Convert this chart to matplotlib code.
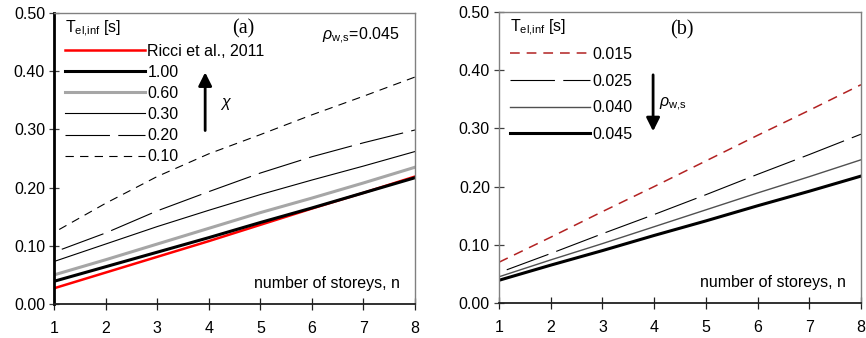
import matplotlib
matplotlib.use("Agg")
import matplotlib.pyplot as plt

plt.rcParams["font.family"] = ["Liberation Sans", "DejaVu Sans"]
plt.rcParams["mathtext.fontset"] = "custom"
plt.rcParams["mathtext.rm"] = "Liberation Sans"
plt.rcParams["mathtext.it"] = "Liberation Sans:italic"
plt.rcParams["lines.scale_dashes"] = False

# --------------------------------------------------------------------------
# DATA
# --------------------------------------------------------------------------
storeys = [1, 2, 3, 4, 5, 6, 7, 8]
storeys_dash_a20 = [1.15, 2, 3, 4, 5, 6, 7, 8]
storeys_dash_a10 = [1.1, 2, 3, 4, 5, 6, 7, 8]
storeys_dash_b025 = [1.15, 2, 3, 4, 5, 6, 7, 8]

ricci_2011 = [0.027, 0.054, 0.081, 0.108, 0.136, 0.164, 0.191, 0.219]
chi_100 = [0.039, 0.064, 0.089, 0.114, 0.140, 0.165, 0.191, 0.217]
chi_060 = [0.050, 0.076, 0.103, 0.130, 0.157, 0.182, 0.208, 0.235]
chi_030 = [0.073, 0.103, 0.133, 0.161, 0.188, 0.213, 0.237, 0.262]
chi_020 = [0.094, 0.122, 0.160, 0.193, 0.225, 0.253, 0.277, 0.299]
chi_010 = [0.128, 0.173, 0.219, 0.258, 0.291, 0.325, 0.357, 0.390]

rho_0015 = [0.070, 0.113, 0.157, 0.200, 0.244, 0.288, 0.331, 0.375]
rho_0025 = [0.057, 0.085, 0.119, 0.152, 0.186, 0.221, 0.255, 0.290]
rho_0040 = [0.045, 0.074, 0.102, 0.131, 0.160, 0.189, 0.217, 0.246]
rho_0045 = [0.039, 0.065, 0.090, 0.116, 0.141, 0.167, 0.192, 0.218]

y_ticks = [0.0, 0.1, 0.2, 0.3, 0.4, 0.5]
FS = 11.5
LONG_DASH = (32, 6)
SHORT_DASH = (6, 4.5)
T_LABEL = r"T$_{\rm el{,}inf}$ [s]"
RHO_LABEL = r"$\rho_{\rm w{,}s}$"


def style_axes(ax, left_spine_color, left_spine_width):
    ax.set_xlim(1, 8)
    ax.set_ylim(0, 0.5)
    ax.set_xticks(storeys)
    ax.set_yticks(y_ticks)
    ax.set_yticklabels([f"{v:.2f}" for v in y_ticks])
    for side in ("top", "right"):
        ax.spines[side].set_color("#808080")
        ax.spines[side].set_linewidth(1.0)
    ax.spines["bottom"].set_color("#202020")
    ax.spines["bottom"].set_linewidth(1.3)
    ax.spines["left"].set_color(left_spine_color)
    ax.spines["left"].set_linewidth(left_spine_width)
    ax.tick_params(axis="y", direction="inout", length=7, width=0.9,
                   color="#404040", labelsize=FS, pad=3)
    ax.tick_params(axis="x", direction="inout", length=9, width=0.9,
                   color="#202020", labelsize=FS, pad=8)
    ax.text(0.958, 0.045, "number of storeys, n", transform=ax.transAxes,
            ha="right", va="bottom", fontsize=FS)
    # legend heading, placed on its own so the row spacing can be set freely
    ax.text(0.03, 0.947, T_LABEL, transform=ax.transAxes,
            ha="left", va="center", fontsize=FS)


def add_legend(ax, top, spacing):
    ax.legend(loc="upper left", bbox_to_anchor=(0.031, top), frameon=False,
              fontsize=FS, handlelength=5.0, handletextpad=0.15,
              labelspacing=spacing, borderaxespad=0.0, borderpad=0.0)


fig = plt.figure(figsize=(8.66, 3.38), dpi=100)
ax_a = fig.add_axes([0.0624, 0.1006, 0.4169, 0.861])
ax_b = fig.add_axes([0.5762, 0.1036, 0.418, 0.861])

# ---------------------------- panel (a) -----------------------------------
ax_a.plot(storeys, ricci_2011, color="#ff0000", lw=1.8, label="Ricci et al., 2011")
ax_a.plot(storeys, chi_100, color="black", lw=2.2, label="1.00")
ax_a.plot(storeys, chi_060, color="#a6a6a6", lw=2.2, label="0.60")
ax_a.plot(storeys, chi_030, color="black", lw=0.8, label="0.30")
ax_a.plot(storeys_dash_a20, chi_020, color="black", lw=0.8,
          dashes=LONG_DASH, label="0.20")
ax_a.plot(storeys_dash_a10, chi_010, color="black", lw=0.8,
          dashes=SHORT_DASH, label="0.10")
style_axes(ax_a, "black", 2.0)
add_legend(ax_a, 0.895, 0.385)

ax_a.annotate("", xy=(3.93, 0.398), xytext=(3.93, 0.298),
              arrowprops=dict(arrowstyle="-|>", lw=2.0, color="black",
                              mutation_scale=20, shrinkA=0, shrinkB=0))
ax_a.text(4.33, 0.344, r"$\chi$", fontsize=FS, ha="center", va="center")
ax_a.text(0.524, 0.945, "(a)", transform=ax_a.transAxes, fontsize=14.5,
          family="Liberation Serif", ha="center", va="center")
ax_a.text(0.958, 0.92, RHO_LABEL + "=0.045", transform=ax_a.transAxes,
          fontsize=FS, ha="right", va="center")

# ---------------------------- panel (b) -----------------------------------
ax_b.plot(storeys, rho_0015, color="#b22222", lw=1.1, dashes=(7, 5), label="0.015")
ax_b.plot(storeys_dash_b025, rho_0025, color="black", lw=0.8,
          dashes=LONG_DASH, label="0.025")
ax_b.plot(storeys, rho_0040, color="#505050", lw=1.0, label="0.040")
ax_b.plot(storeys, rho_0045, color="black", lw=2.2, label="0.045")
style_axes(ax_b, "#808080", 1.0)
add_legend(ax_b, 0.88, 0.73)

ax_b.annotate("", xy=(3.98, 0.295), xytext=(3.98, 0.392),
              arrowprops=dict(arrowstyle="-|>", lw=2.0, color="black",
                              mutation_scale=20, shrinkA=0, shrinkB=0))
ax_b.text(4.1, 0.342, RHO_LABEL, fontsize=FS, ha="left", va="center")
ax_b.text(0.505, 0.94, "(b)", transform=ax_b.transAxes, fontsize=14.5,
          family="Liberation Serif", ha="center", va="center")

fig.savefig("out.png", dpi=100)
